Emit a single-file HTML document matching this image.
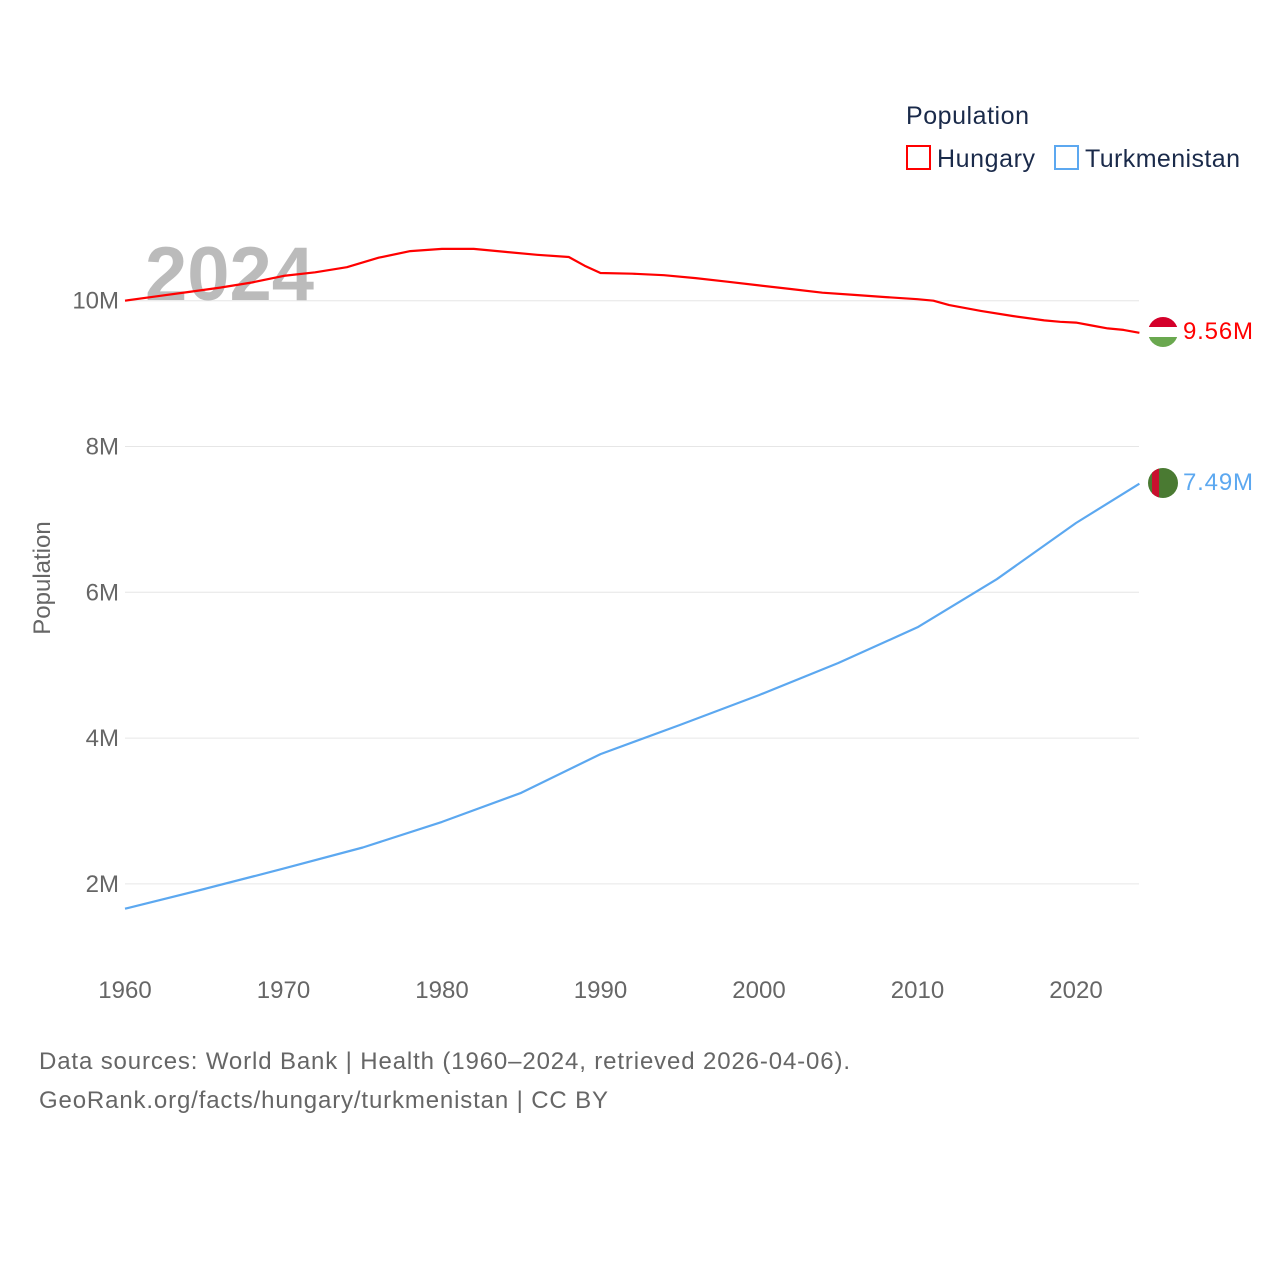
<!DOCTYPE html>
<html><head><meta charset="utf-8">
<style>
body{margin:0;background:#fff;font-family:"Liberation Sans",sans-serif;}
svg text{font-family:"Liberation Sans",sans-serif;}
</style></head>
<body>
<svg id="chart" width="1280" height="1280" viewBox="0 0 1280 1280" xmlns="http://www.w3.org/2000/svg">
<g id="grid"></g>
<g id="yticks"></g>
<g id="xticks"></g>
<text x="145" y="300" font-size="76" font-weight="bold" fill="#bbbbbb">2024</text>
<text transform="translate(50,578) rotate(-90)" text-anchor="middle" font-size="24" fill="#666">Population</text>
<g id="lines"></g>
<g>
<text x="906" y="124" font-size="25" fill="#1a2a4a" textLength="123">Population</text>
<g><rect x="907" y="146" width="23" height="23" fill="none" stroke="#ff0000" stroke-width="2"/><text x="937" y="167" font-size="25" fill="#1a2a4a" textLength="98">Hungary</text></g>
<g><rect x="1055" y="146" width="23" height="23" fill="none" stroke="#5ca8f0" stroke-width="2"/><text x="1085" y="167" font-size="25" fill="#1a2a4a" textLength="155">Turkmenistan</text></g>
</g>
<g>
<clipPath id="c1"><circle cx="1163" cy="332" r="15"/></clipPath>
<g clip-path="url(#c1)"><rect x="1148" y="317" width="30" height="10" fill="#d4002a"/><rect x="1148" y="327" width="30" height="10" fill="#fff"/><rect x="1148" y="337" width="30" height="10" fill="#6aa84f"/></g>
</g>
<g>
<clipPath id="c2"><circle cx="1163" cy="483" r="15"/></clipPath>
<g clip-path="url(#c2)"><rect x="1148" y="468" width="30" height="30" fill="#4a7a32"/><rect x="1152" y="468" width="7" height="30" fill="#c8102e"/></g>
</g>
<text x="1183" y="339" font-size="24" fill="#ff0000" textLength="70">9.56M</text>
<text x="1183" y="490" font-size="24" fill="#5ca8f0" textLength="70">7.49M</text>
<text x="39" y="1069" font-size="24" fill="#666" textLength="811">Data sources: World Bank | Health (1960–2024, retrieved 2026-04-06).</text>
<text x="39" y="1108" font-size="24" fill="#666" textLength="569">GeoRank.org/facts/hungary/turkmenistan | CC BY</text>
</svg>
<script>
const yTicks=[2,4,6,8,10];
const yTickLabels=["2M","4M","6M","8M","10M"];
const xTicks=[1960,1970,1980,1990,2000,2010,2020];
const huYears=[1960,1962,1964,1966,1968,1970,1972,1974,1976,1978,1980,1982,1984,1986,1988,1989,1990,1992,1994,1996,1998,2000,2002,2004,2006,2008,2010,2011,2012,2014,2016,2018,2019,2020,2021,2022,2023,2024];
const huValues=[10.0,10.06,10.12,10.18,10.25,10.34,10.39,10.46,10.59,10.68,10.71,10.71,10.67,10.63,10.60,10.48,10.38,10.37,10.35,10.31,10.26,10.21,10.16,10.11,10.08,10.05,10.02,10.0,9.94,9.86,9.79,9.73,9.71,9.70,9.66,9.62,9.60,9.56];
const tmYears=[1960,1965,1970,1975,1980,1985,1990,1995,2000,2005,2010,2015,2020,2024];
const tmValues=[1.66,1.93,2.21,2.50,2.85,3.25,3.78,4.18,4.59,5.03,5.52,6.18,6.95,7.49];
const NS="http://www.w3.org/2000/svg";
const x=yr=>125+(yr-1960)*(1076-125)/60;
const y=v=>1029.7-v*72.9;
function mk(t,a,p){const e=document.createElementNS(NS,t);for(const k in a)e.setAttribute(k,a[k]);p.appendChild(e);return e;}
const grid=document.getElementById('grid'),yt=document.getElementById('yticks'),xt=document.getElementById('xticks'),ln=document.getElementById('lines');
yTicks.forEach((v,i)=>{
 const g=mk('line',{x1:125,x2:1139,y1:y(v),y2:y(v),stroke:'#e6e6e6','stroke-width':1},grid);
 
 
 const t=mk('text',{x:119,y:y(v)+8,'text-anchor':'end','font-size':24,fill:'#666'},yt);
 
 
 t.textContent=yTickLabels[i];
});
xTicks.forEach(v=>{
 const t=mk('text',{x:x(v),y:998,'text-anchor':'middle','font-size':24,fill:'#666'},xt);
 
 
 t.textContent=v;
});
function pts(ys,vs){return ys.map((yr,i)=>x(yr).toFixed(1)+','+y(vs[i]).toFixed(1)).join(' ');}
const hu=mk('polyline',{points:pts(huYears,huValues),fill:'none',stroke:'#ff0000','stroke-width':2.2,'stroke-linejoin':'round'},ln);


const tm=mk('polyline',{points:pts(tmYears,tmValues),fill:'none',stroke:'#5ca8f0','stroke-width':2.2,'stroke-linejoin':'round'},ln);


</script>
</body></html>
